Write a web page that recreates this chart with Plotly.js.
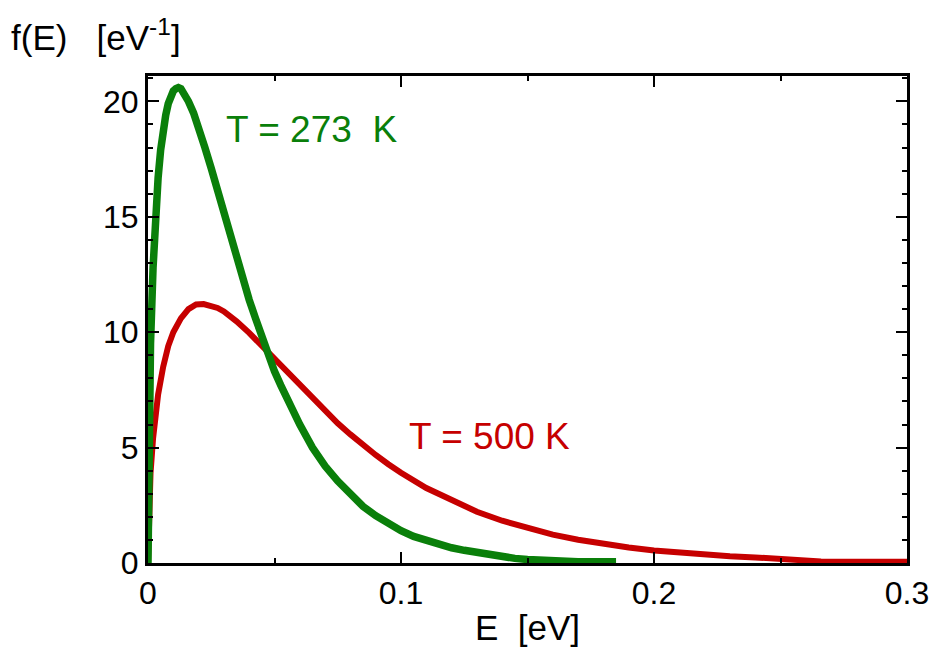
<!DOCTYPE html>
<html>
<head>
<meta charset="utf-8">
<script src="https://cdn.plot.ly/plotly-3.0.1.min.js"></script>
<style>html,body{margin:0;padding:0;background:#fff;}#chart{width:936px;height:650px;}</style>
</head>
<body>
<div id="chart"></div>
<script>
// Energy values (eV) and distribution values f(E)
const energy273 = [0, 0.0005, 0.001, 0.002, 0.003, 0.004, 0.005, 0.006, 0.007, 0.008, 0.009, 0.010, 0.011, 0.012, 0.013, 0.014, 0.016, 0.018, 0.020, 0.0225, 0.025, 0.0275, 0.030, 0.0325, 0.035, 0.0375, 0.040, 0.0425, 0.045, 0.0475, 0.050, 0.0525, 0.055, 0.0575, 0.060, 0.065, 0.070, 0.075, 0.080, 0.085, 0.090, 0.095, 0.100, 0.105, 0.110, 0.115, 0.120, 0.125, 0.130, 0.135, 0.140, 0.145, 0.150, 0.160, 0.170, 0.185];
const f273 = [0, 6.8, 9.5, 12.8, 15.1, 16.7, 17.9, 18.8, 19.4, 19.9, 20.2, 20.45, 20.55, 20.6, 20.55, 20.4, 20.0, 19.5, 18.9, 18.0, 17.1, 16.1, 15.1, 14.1, 13.2, 12.3, 11.4, 10.6, 9.8, 9.05, 8.3, 7.7, 7.1, 6.5, 6.0, 5.0, 4.2, 3.55, 2.95, 2.45, 2.05, 1.7, 1.4, 1.15, 0.97, 0.8, 0.66, 0.55, 0.45, 0.37, 0.3, 0.2, 0.15, 0.08, 0.05, 0.05];

const energy500 = [0, 0.0005, 0.001, 0.002, 0.003, 0.004, 0.006, 0.008, 0.010, 0.013, 0.016, 0.019, 0.022, 0.025, 0.0275, 0.030, 0.0325, 0.035, 0.040, 0.045, 0.050, 0.055, 0.060, 0.065, 0.070, 0.075, 0.080, 0.085, 0.090, 0.095, 0.100, 0.110, 0.120, 0.130, 0.140, 0.150, 0.160, 0.170, 0.180, 0.190, 0.200, 0.210, 0.220, 0.230, 0.240, 0.250, 0.258, 0.266, 0.285, 0.300];
const f500 = [0, 2.8, 3.9, 5.4, 6.5, 7.3, 8.5, 9.4, 10.0, 10.6, 11.0, 11.2, 11.22, 11.16, 11.05, 10.9, 10.7, 10.47, 9.97, 9.4, 8.83, 8.25, 7.67, 7.1, 6.57, 6.05, 5.57, 5.1, 4.68, 4.28, 3.91, 3.25, 2.7, 2.22, 1.83, 1.5, 1.23, 1.01, 0.82, 0.67, 0.54, 0.44, 0.36, 0.29, 0.24, 0.19, 0.16, 0.07, 0.05, 0.05];

const xTickVals = [0, 0.1, 0.2, 0.3];
const xTickText = ['0', '0.1', '0.2', '0.3'];
const yTickVals = [0, 5, 10, 15, 20];
const yTickText = ['0', '5', '10', '15', '20'];

const labels = ['T = 273\u00a0\u00a0K', 'T = 500 K'];
const labelX = [0.0302, 0.1025];
const labelY = [18.79, 5.47];

const green = '#0a7f0a';
const red = '#c60000';
const font = 'Liberation Sans, Arial, sans-serif';

const traces = [
  {x: energy500, y: f500, mode: 'lines', line: {color: red, width: 6}, hoverinfo: 'skip'},
  {x: energy273, y: f273, mode: 'lines', line: {color: green, width: 7.5}, hoverinfo: 'skip'}
];

const axisCommon = {
  showline: true, linecolor: '#000', linewidth: 3, mirror: 'ticks',
  ticks: 'inside', ticklen: 11, tickwidth: 2, tickcolor: '#000',
  showgrid: false, zeroline: false,
  tickfont: {family: font, size: 32, color: '#000'}
};

const layout = {
  width: 936, height: 650,
  margin: {l: 148, r: 29, t: 76, b: 87},
  paper_bgcolor: '#fff', plot_bgcolor: '#fff',
  showlegend: false,
  xaxis: Object.assign({}, axisCommon, {
    range: [0, 0.3], tickmode: 'array', tickvals: xTickVals, ticktext: xTickText,
    minor: {dtick: 0.05, ticks: 'inside', ticklen: 5, tickwidth: 2, tickcolor: '#000', showgrid: false},
    title: {text: 'E\u00a0\u00a0[eV]', font: {family: font, size: 35, color: '#000'}, standoff: 6}
  }),
  yaxis: Object.assign({}, axisCommon, {
    range: [0, 21.1], tickmode: 'array', tickvals: yTickVals, ticktext: yTickText,
    minor: {dtick: 1, ticks: 'inside', ticklen: 5, tickwidth: 2, tickcolor: '#000', showgrid: false}
  }),
  annotations: [
    {xref: 'paper', yref: 'paper', x: -0.183, y: 1.085, xanchor: 'left', yanchor: 'middle', showarrow: false,
     text: 'f(E)\u00a0\u00a0\u00a0[eV<sup>-1</sup>]', font: {family: font, size: 35, color: '#000'}},
    {x: labelX[0], y: labelY[0], xanchor: 'left', yanchor: 'middle', showarrow: false,
     text: labels[0], font: {family: font, size: 37, color: green}},
    {x: labelX[1], y: labelY[1], xanchor: 'left', yanchor: 'middle', showarrow: false,
     text: labels[1], font: {family: font, size: 37, color: red}}
  ]
};

Plotly.newPlot('chart', traces, layout, {displayModeBar: false, staticPlot: true});
</script>
</body>
</html>
